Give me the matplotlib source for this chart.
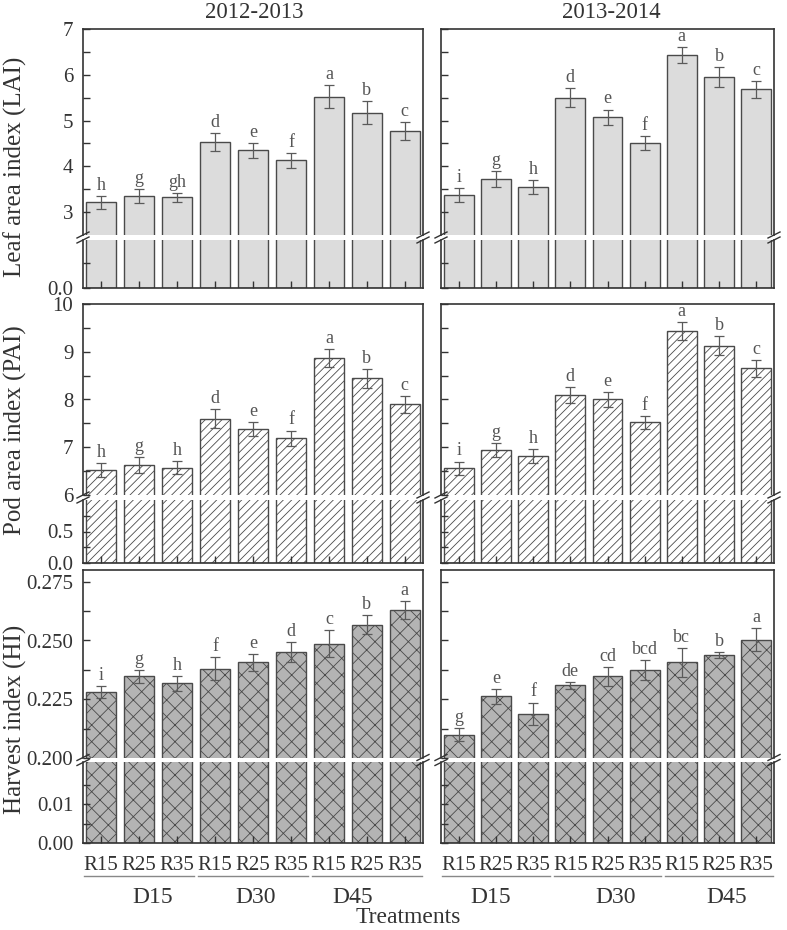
import numpy as np
import matplotlib
matplotlib.use('Agg')
import matplotlib.pyplot as plt
from matplotlib.lines import Line2D
from matplotlib.transforms import blended_transform_factory

plt.rcParams['font.family'] = ['Liberation Serif', 'DejaVu Serif']
plt.rcParams['hatch.linewidth'] = 0.6

# ---- data ----
treatments = ['R15', 'R25', 'R35'] * 3
groups = ['D15', 'D30', 'D45']
seasons = ['2012-2013', '2013-2014']

lai_1213 = [3.21, 3.35, 3.32, 4.53, 4.35, 4.13, 5.52, 5.17, 4.77]
lai_1213_err = [0.14, 0.15, 0.10, 0.20, 0.16, 0.16, 0.25, 0.25, 0.20]
lai_1213_let = ['h', 'g', 'gh', 'd', 'e', 'f', 'a', 'b', 'c']
lai_1314 = [3.37, 3.72, 3.55, 5.50, 5.07, 4.51, 6.43, 5.95, 5.68]
lai_1314_err = [0.16, 0.17, 0.16, 0.21, 0.17, 0.16, 0.17, 0.22, 0.18]
lai_1314_let = ['i', 'g', 'h', 'd', 'e', 'f', 'a', 'b', 'c']

pai_1213 = [6.52, 6.63, 6.57, 7.60, 7.38, 7.19, 8.87, 8.44, 7.90]
pai_1213_err = [0.14, 0.17, 0.14, 0.20, 0.15, 0.16, 0.18, 0.19, 0.18]
pai_1213_let = ['h', 'g', 'h', 'd', 'e', 'f', 'a', 'b', 'c']
pai_1314 = [6.56, 6.94, 6.82, 8.10, 8.00, 7.52, 9.44, 9.13, 8.65]
pai_1314_err = [0.14, 0.15, 0.14, 0.17, 0.16, 0.14, 0.19, 0.20, 0.18]
pai_1314_let = ['i', 'g', 'h', 'd', 'e', 'f', 'a', 'b', 'c']

hi_1213 = [0.228, 0.2347, 0.2318, 0.238, 0.2407, 0.245, 0.2487, 0.2568, 0.263]
hi_1213_err = [0.0025, 0.0026, 0.0032, 0.005, 0.0035, 0.0042, 0.0059, 0.004, 0.0037]
hi_1213_let = ['i', 'g', 'h', 'f', 'e', 'd', 'c', 'b', 'a']
hi_1314 = [0.210, 0.2263, 0.2189, 0.2309, 0.2347, 0.2374, 0.2407, 0.2437, 0.2504]
hi_1314_err = [0.0027, 0.0032, 0.0047, 0.0014, 0.004, 0.0044, 0.0061, 0.0012, 0.005]
hi_1314_let = ['g', 'e', 'f', 'de', 'cd', 'bcd', 'bc', 'b', 'a']

# ---- layout (pixels) ----
W, H = 787, 930
fig = plt.figure(figsize=(W / 100, H / 100), dpi=100)


def rect(x0, x1, yt, yb):
    return [x0 / W, 1 - yb / H, (x1 - x0) / W, (yb - yt) / H]


cols = [(83, 423), (441, 774)]
edge = '#4a4a4a'
txt = '#333333'

rows = [
    dict(up=(29, 235), lo=(240, 288), ulim=(2.5, 7), llim=(0, 0.96),
         umaj=[3, 4, 5, 6, 7], umin=[3.5, 4.5, 5.5, 6.5], ufmt='{:.0f}',
         lmaj=[0], lmin=[0.5], lfmt='{:.1f}',
         fc='#dcdcdc', hatch=None, label='Leaf area index (LAI)', ly=167,
         data=[(lai_1213, lai_1213_err, lai_1213_let),
               (lai_1314, lai_1314_err, lai_1314_let)]),
    dict(up=(304, 495), lo=(500, 563), ulim=(6, 10), llim=(0, 1.0),
         umaj=[6, 7, 8, 9, 10], umin=[6.5, 7.5, 8.5, 9.5], ufmt='{:.0f}',
         lmaj=[0, 0.5], lmin=[0.25, 0.75], lfmt='{:.1f}',
         fc='white', hatch='////', label='Pod area index (PAI)', ly=430,
         data=[(pai_1213, pai_1213_err, pai_1213_let),
               (pai_1314, pai_1314_err, pai_1314_let)]),
    dict(up=(570, 758), lo=(762, 843), ulim=(0.2, 0.28), llim=(0, 0.0208),
         umaj=[0.2, 0.225, 0.25, 0.275], umin=[0.2125, 0.2375, 0.2625], ufmt='{:.3f}',
         lmaj=[0, 0.01], lmin=[0.005, 0.015], lfmt='{:.2f}',
         fc='#b4b4b4', hatch='xx', label='Harvest index (HI)', ly=719,
         data=[(hi_1213, hi_1213_err, hi_1213_let),
               (hi_1314, hi_1314_err, hi_1314_let)]),
]

x = np.arange(len(treatments))

for r, row in enumerate(rows):
    for c in range(2):
        vals, errs, lets = row['data'][c]
        axu = fig.add_axes(rect(cols[c][0], cols[c][1], *row['up']))
        axl = fig.add_axes(rect(cols[c][0], cols[c][1], *row['lo']))
        for ax in (axu, axl):
            ax.bar(x, vals, width=0.8, color=row['fc'], edgecolor=edge,
                   hatch=row['hatch'], linewidth=1.0)
            ax.set_xlim(-0.48, 8.48)
            for s in ax.spines.values():
                s.set_color('#333333')
                s.set_linewidth(1.2)
            ax.tick_params(axis='both', which='both', direction='in', length=5,
                           width=1, color='#333333', labelsize=15, labelcolor=txt,
                           right=False, top=False)
        axu.set_ylim(*row['ulim'])
        axl.set_ylim(*row['llim'])
        axu.spines['bottom'].set_visible(False)
        axl.spines['top'].set_visible(False)
        axu.set_xticks([])
        axu.set_yticks(row['umaj'])
        axu.set_yticks(row['umin'], minor=True)
        axl.set_yticks(row['lmaj'])
        axl.set_yticks(row['lmin'], minor=True)
        if c == 0:
            axu.set_yticklabels([row['ufmt'].format(v) for v in row['umaj']])
            axl.set_yticklabels([row['lfmt'].format(v) for v in row['lmaj']])
        else:
            axu.set_yticklabels([])
            axl.set_yticklabels([])
        axu.tick_params(axis='y', pad=7)
        axl.tick_params(axis='y', pad=7)

        axu.errorbar(x, vals, yerr=errs, fmt='none', ecolor='#5a5a5a',
                     elinewidth=0.9, capsize=3.5, capthick=0.9)
        for xi, v, e, t in zip(x, vals, errs, lets):
            axu.annotate(t, (xi, v + e), xytext=(0, 1.5), textcoords='offset points',
                         ha='center', va='bottom', fontsize=13, color='#555555')

        axl.set_xticks(x)
        if r == 2:
            axl.set_xticklabels(treatments)
            axl.tick_params(axis='x', pad=9)
        else:
            axl.set_xticklabels([])

        # break marks
        yb = (row['up'][1] + row['lo'][0]) / 2
        for xe in cols[c]:
            for dy in (-2.5, 2.5):
                fig.add_artist(Line2D([(xe - 6) / W, (xe + 6) / W],
                                      [1 - (yb + dy + 3) / H, 1 - (yb + dy - 3) / H],
                                      color='#333333', lw=1.0))

        if r == 2:
            tr = blended_transform_factory(axl.transData, fig.transFigure)
            for g in range(3):
                axl.plot([3 * g - 0.45, 3 * g + 2.45], [1 - 876 / H] * 2,
                         transform=tr, color='#888888', lw=1.0, clip_on=False)
            dpos = [1.35, 4.06, 6.63] if c == 0 else [0.86, 4.23, 7.2]
            for g, xp in zip(groups, dpos):
                axl.text(xp, 1 - 897 / H, g, transform=tr, ha='center', va='center',
                         fontsize=17, color=txt)

    fig.text(15 / W, 1 - row['ly'] / H, row['label'], rotation=90, ha='center',
             va='center', fontsize=18, color=txt)

fig.text(254 / W, 1 - 12 / H, seasons[0], ha='center', va='center', fontsize=16.5, color=txt)
fig.text(611 / W, 1 - 12 / H, seasons[1], ha='center', va='center', fontsize=16.5, color=txt)
fig.text(408 / W, 1 - 917 / H, 'Treatments', ha='center', va='center', fontsize=17, color=txt)

fig.savefig('out.png', dpi=100)
